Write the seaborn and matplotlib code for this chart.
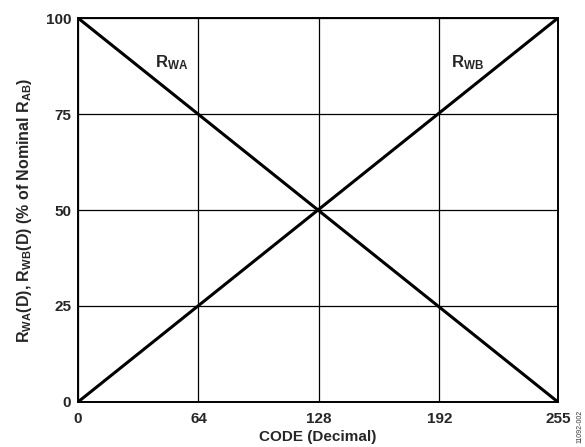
import matplotlib
matplotlib.use("Agg")
import matplotlib.pyplot as plt
import seaborn as sns
import pandas as pd

# Wiper resistance vs code
codes = [0, 255]
r_wa = [100, 0]
r_wb = [0, 100]
x_ticks = [0, 64, 128, 192, 255]
y_ticks = [0, 25, 50, 75, 100]

sns.set_style("white")
plt.rcParams['font.family'] = ['Liberation Sans', 'DejaVu Sans']
plt.rcParams['font.weight'] = 'bold'
plt.rcParams['mathtext.fontset'] = 'custom'
plt.rcParams['mathtext.rm'] = 'Liberation Sans:weight=bold'
plt.rcParams['mathtext.bf'] = 'Liberation Sans:weight=bold'
plt.rcParams['mathtext.it'] = 'Liberation Sans:weight=bold'
plt.rcParams['mathtext.default'] = 'bf'

df = pd.DataFrame({"code": codes + codes,
                   "value": r_wa + r_wb,
                   "series": ["RWA"] * 2 + ["RWB"] * 2})

fig = plt.figure(figsize=(5.85, 4.47), dpi=100)
ax = fig.add_axes([0.1333, 0.1007, 0.8205, 0.859])
sns.lineplot(data=df, x="code", y="value", units="series", estimator=None,
             color="black", linewidth=2.2, ax=ax)

ax.set_xlim(0, 255)
ax.set_ylim(0, 100)
ax.set_xticks(x_ticks)
ax.set_yticks(y_ticks)
ax.tick_params(axis='x', length=0, labelsize=11, pad=7)
ax.tick_params(axis='y', length=0, labelsize=11, pad=5)
for lbl in ax.get_xticklabels() + ax.get_yticklabels():
    lbl.set_fontweight('bold')
ax.grid(True, color="black", linewidth=0.9)
for s in ax.spines.values():
    s.set_color("black")
    s.set_linewidth(1.4)

ax.set_xlabel("CODE (Decimal)", fontsize=11, fontweight='bold', labelpad=3)
ax.set_ylabel(r"$\mathbf{R_{WA}}$(D), $\mathbf{R_{WB}}$(D) (% of Nominal $\mathbf{R_{AB}}$)",
              fontsize=11.5, fontweight='bold', labelpad=8)

ax.text(41, 88.5, r"$\mathbf{R_{WA}}$", fontsize=12, va='center')
ax.text(198, 88.5, r"$\mathbf{R_{WB}}$", fontsize=12, va='center')

fig.text(0.992, 0.01, "11092-002", rotation=90, fontsize=5, fontweight='normal',
         ha='center', va='bottom', color='#333333')

fig.savefig("out.png", dpi=100)
